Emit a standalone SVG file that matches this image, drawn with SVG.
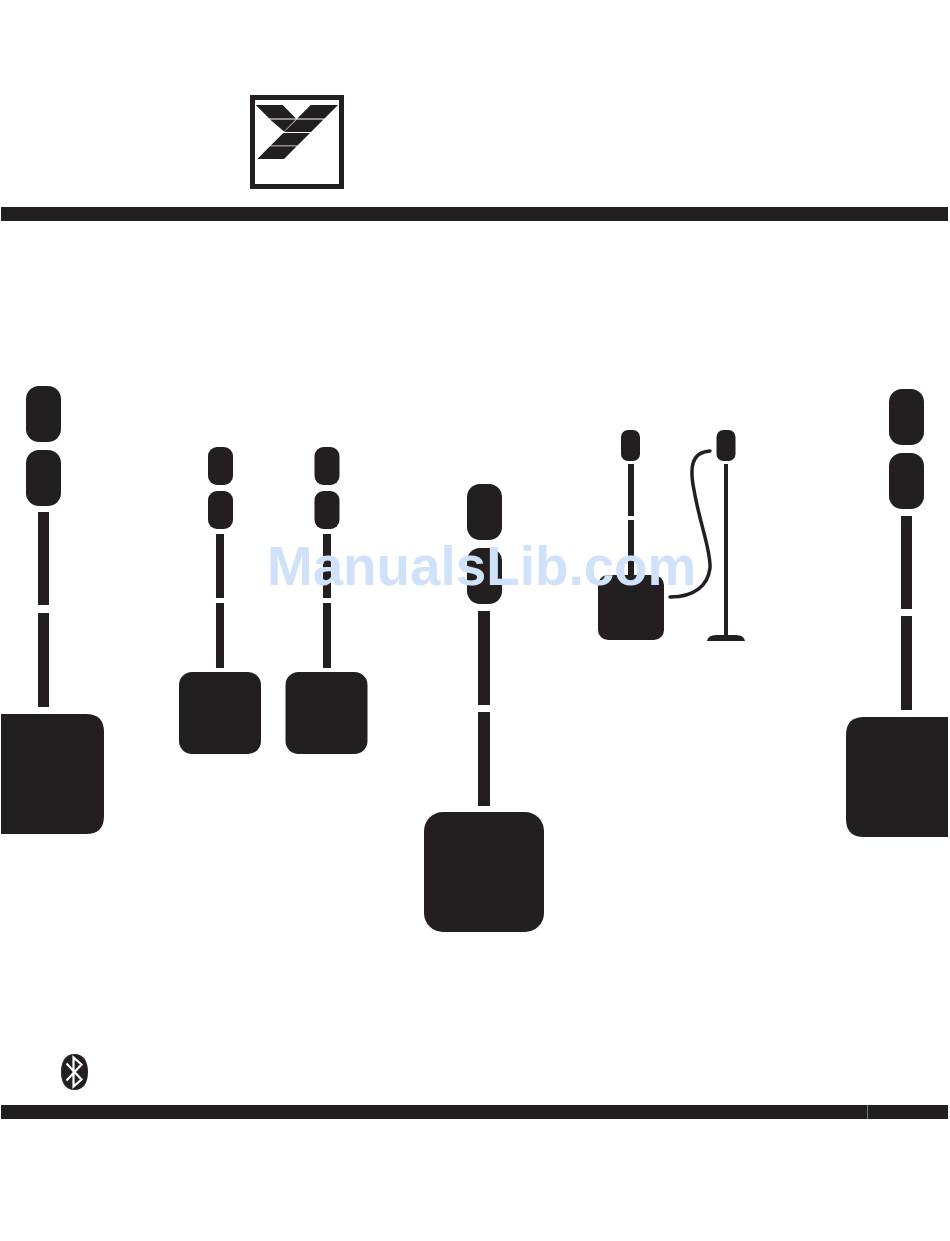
<svg xmlns="http://www.w3.org/2000/svg" width="950" height="1241" viewBox="0 0 950 1241">
<style>
.k{fill:#231f20}
.w{font-family:"Liberation Sans",Arial,sans-serif;font-weight:700;font-size:54.8px;fill:#cfe2fa}
</style>
<rect width="950" height="1241" fill="#fff"/>
<g id="logo">
<rect x="252.500" y="97.500" width="89" height="89" fill="#fff" stroke="#231f20" stroke-width="5"/>
<g class="k">
<polygon points="255.700,105 282.700,105 296,118.500 269.300,118.500"/>
<polygon points="270,119.500 295.800,119.500 284,131.500"/>
<polygon points="310.700,105 338,105 324.500,118.500 297.300,118.500"/>
<polygon points="296.700,119.500 323.500,119.500 311,132 284,132"/>
<polygon points="283.300,133 310,133 297.500,145.500 270.700,145.500"/>
<polygon points="270,146.300 296.700,146.300 284,159 257.300,159"/>
</g>
</g>
<g id="top-bar"><rect class="k" x="1" y="207" width="947" height="14"/></g>
<g id="connectors" class="k">
<rect x="38" y="512" width="11" height="93"/><rect x="38" y="613" width="11" height="94"/>
<rect x="216" y="534" width="8" height="64"/><rect x="216" y="603" width="8" height="65"/>
<rect x="323" y="534" width="8" height="64"/><rect x="323" y="603" width="8" height="65"/>
<rect x="478" y="611" width="12" height="94"/><rect x="478" y="712" width="12" height="94"/>
<rect x="901" y="516" width="11" height="93"/><rect x="901" y="616" width="11" height="94"/>
<rect x="628" y="464" width="6" height="52"/><rect x="628" y="520" width="6" height="55"/>
<rect x="724" y="464" width="4" height="172"/>
<path d="M710 451C690 452 690 470 694 490C700 525 711 550 710 568C708 585 695 597 670 597" fill="none" stroke="#231f20" stroke-width="3.500" stroke-linecap="round"/>
</g>
<g id="system-left" class="k">
<rect x="26" y="386" width="35" height="56" rx="13"/><rect x="26" y="450" width="35" height="56" rx="13"/>
<path d="M1 714H86Q104 714 104 732V816Q104 834 86 834H1Z"/>
</g>
<g id="system-2" class="k">
<rect x="208" y="447" width="25" height="38" rx="9"/><rect x="208" y="491" width="25" height="38" rx="9"/>
<rect x="179" y="672" width="82" height="82" rx="13"/>
</g>
<g id="system-3" class="k">
<rect x="314.500" y="447" width="25" height="38" rx="9"/><rect x="314.500" y="491" width="25" height="38" rx="9"/>
<rect x="285.500" y="672" width="82" height="82" rx="13"/>
</g>
<g id="system-center" class="k">
<rect x="467" y="484" width="35" height="56" rx="13"/><rect x="467" y="548" width="35" height="56" rx="13"/>
<rect x="424" y="812" width="120" height="120" rx="19"/>
</g>
<g id="system-small" class="k">
<rect x="621" y="430" width="19" height="31" rx="7"/>
<rect x="598" y="575" width="66" height="65" rx="10"/>
<rect x="716.500" y="430" width="19" height="31" rx="7"/>
<path d="M707 641Q708 635 716 635H736Q744 635 745 641Z"/>
</g>
<g id="system-right" class="k">
<rect x="889" y="389" width="35" height="56" rx="13"/><rect x="889" y="453" width="35" height="56" rx="13"/>
<path d="M948 717H864Q846 717 846 735V819Q846 837 864 837H948Z"/>
</g>
<g id="bluetooth">
<path class="k" d="M74.500 1054C84 1054 88 1062 88 1072C88 1082 84 1090 74.500 1090C65 1090 61 1082 61 1072C61 1062 65 1054 74.500 1054Z"/>
<path d="M66.500 1063.500L81.500 1079.500L73.500 1086.500V1057.500L81.500 1064.500L66.500 1080.500" fill="none" stroke="#fff" stroke-width="2.200"/>
</g>
<g id="bottom-bar">
<rect class="k" x="1" y="1105" width="947" height="14"/>
<rect x="867" y="1105" width="1" height="14" fill="#777"/>
</g>
<text class="w" x="267" y="585">ManualsLib.com</text>
</svg>
